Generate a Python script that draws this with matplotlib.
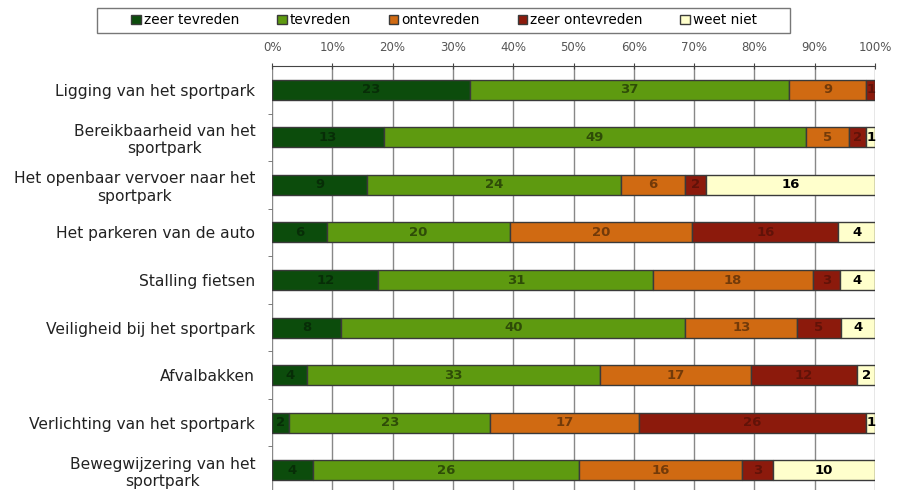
import numpy as np
import matplotlib.pyplot as plt
from matplotlib.patches import Rectangle

# Categorieën en aantallen per antwoord
categorieen = ["Ligging van het sportpark",
               "Bereikbaarheid van het\nsportpark",
               "Het openbaar vervoer naar het\nsportpark",
               "Het parkeren van de auto",
               "Stalling fietsen",
               "Veiligheid bij het sportpark",
               "Afvalbakken",
               "Verlichting van het sportpark",
               "Bewegwijzering van het\nsportpark"]
reeksen = ["zeer tevreden", "tevreden", "ontevreden", "zeer ontevreden", "weet niet"]

zeer_tevreden = [23, 13, 9, 6, 12, 8, 4, 2, 4]
tevreden = [37, 49, 24, 20, 31, 40, 33, 23, 26]
ontevreden = [9, 5, 6, 20, 18, 13, 17, 17, 16]
zeer_ontevreden = [1, 2, 2, 16, 3, 5, 12, 26, 3]
weet_niet = [0, 1, 16, 4, 4, 4, 2, 1, 10]

kleuren = ["#0c4c0c", "#5e9a10", "#d06a12", "#8c1a0c", "#ffffcc"]
tekstkleur = [(0, 0, 0, 0.4), (0, 0, 0, 0.5), (0, 0, 0, 0.45), (0, 0, 0, 0.3), "black"]

data = np.array([zeer_tevreden, tevreden, ontevreden, zeer_ontevreden, weet_niet], dtype=float)
totaal = data.sum(axis=0)
perc = data / totaal * 100

fig = plt.figure(figsize=(8.98, 4.90), dpi=100)
ax = fig.add_axes([272/898, -0.0082, 603/898, 0.8735])

y = np.arange(len(categorieen))
links = np.zeros(len(categorieen))
for i, naam in enumerate(reeksen):
    ax.barh(y, perc[i], left=links, height=0.42, color=kleuren[i],
            edgecolor="#3a3a3a", linewidth=1, label=naam, zorder=3)
    for j in range(len(categorieen)):
        if data[i, j] > 0:
            ax.text(links[j] + perc[i, j] / 2, y[j], str(int(data[i, j])),
                    ha="center", va="center", fontsize=9.5, fontweight="bold",
                    color=tekstkleur[i], zorder=4)
    links += perc[i]

ax.set_xlim(0, 100)
ax.set_ylim(len(categorieen) - 0.5, -0.5)
ax.set_xticks(np.arange(0, 101, 10))
ax.set_xticklabels([f"{v}%" for v in range(0, 101, 10)], fontsize=8.5, color="#555555")
ax.xaxis.tick_top()
ax.tick_params(axis="x", direction="inout", length=5, color="#444444", pad=6)
ax.set_yticks(y)
ax.set_yticklabels(categorieen, fontsize=11.2, color="#222222", multialignment="center")
ax.set_yticks(np.arange(0.5, len(categorieen) - 0.5, 1), minor=True)
ax.tick_params(axis="y", which="major", length=0, pad=12)
ax.tick_params(axis="y", which="minor", length=3, color="#666666")
ax.grid(axis="x", color="#888888", linewidth=1, zorder=0)
for kant in ["left", "right", "bottom"]:
    ax.spines[kant].set_visible(False)
ax.spines["top"].set_color("#444444")

# legenda met een eigen kader
fig.legend(loc="center", bbox_to_anchor=(444/898, 1 - 20.5/490), ncol=5,
           fontsize=9.8, frameon=False,
           handlelength=0.7, handleheight=0.7, handletextpad=0.2,
           columnspacing=2.8, borderpad=0.3)
fig.patches.append(Rectangle((97/898, 1 - 33/490), 693/898, 25/490,
                             transform=fig.transFigure, fill=False,
                             edgecolor="#777777", linewidth=1))

fig.savefig("out.png", dpi=100)
